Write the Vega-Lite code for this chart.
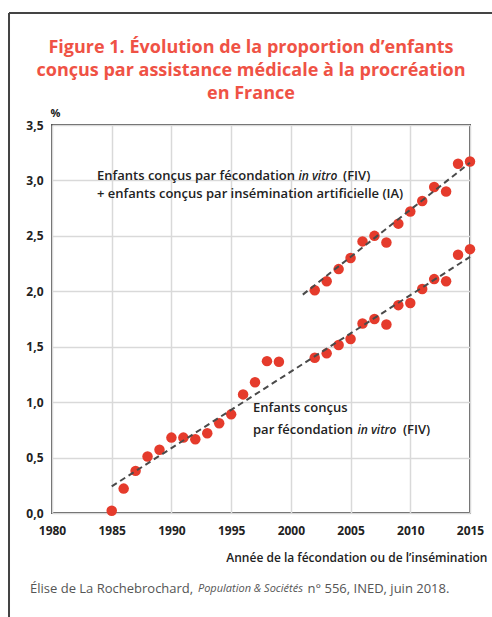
{
  "$schema": "https://vega.github.io/schema/vega-lite/v6.json",
  "width": 418,
  "height": 388,
  "autosize": {"type": "none"},
  "padding": {"left": 52, "top": 125, "right": 22, "bottom": 104},
  "background": "white",
  "config": {
    "view": {"stroke": "#555555", "strokeWidth": 2},
    "axis": {
      "labelFont": "Open Sans",
      "labelFontWeight": "bold",
      "labelFontSize": 12,
      "labelColor": "#222222",
      "gridColor": "#d9d9d9",
      "gridWidth": 1.5,
      "domain": false,
      "ticks": false,
      "titleFont": "Open Sans",
      "titleColor": "#222222"
    },
    "text": {"font": "Open Sans"}
  },
  "datasets": {
    "points": [
      {"series": "FIV", "year": 1985, "value": 0.02},
      {"series": "FIV", "year": 1986, "value": 0.22},
      {"series": "FIV", "year": 1987, "value": 0.38},
      {"series": "FIV", "year": 1988, "value": 0.51},
      {"series": "FIV", "year": 1989, "value": 0.57},
      {"series": "FIV", "year": 1990, "value": 0.68},
      {"series": "FIV", "year": 1991, "value": 0.68},
      {"series": "FIV", "year": 1992, "value": 0.665},
      {"series": "FIV", "year": 1993, "value": 0.72},
      {"series": "FIV", "year": 1994, "value": 0.81},
      {"series": "FIV", "year": 1995, "value": 0.89},
      {"series": "FIV", "year": 1996, "value": 1.07},
      {"series": "FIV", "year": 1997, "value": 1.18},
      {"series": "FIV", "year": 1998, "value": 1.37},
      {"series": "FIV", "year": 1999, "value": 1.365},
      {"series": "FIV", "year": 2002, "value": 1.40},
      {"series": "FIV", "year": 2003, "value": 1.44},
      {"series": "FIV", "year": 2004, "value": 1.515},
      {"series": "FIV", "year": 2005, "value": 1.57},
      {"series": "FIV", "year": 2006, "value": 1.71},
      {"series": "FIV", "year": 2007, "value": 1.75},
      {"series": "FIV", "year": 2008, "value": 1.70},
      {"series": "FIV", "year": 2009, "value": 1.875},
      {"series": "FIV", "year": 2010, "value": 1.895},
      {"series": "FIV", "year": 2011, "value": 2.02},
      {"series": "FIV", "year": 2012, "value": 2.11},
      {"series": "FIV", "year": 2013, "value": 2.09},
      {"series": "FIV", "year": 2014, "value": 2.33},
      {"series": "FIV", "year": 2015, "value": 2.38},
      {"series": "FIV+IA", "year": 2002, "value": 2.01},
      {"series": "FIV+IA", "year": 2003, "value": 2.09},
      {"series": "FIV+IA", "year": 2004, "value": 2.20},
      {"series": "FIV+IA", "year": 2005, "value": 2.30},
      {"series": "FIV+IA", "year": 2006, "value": 2.45},
      {"series": "FIV+IA", "year": 2007, "value": 2.50},
      {"series": "FIV+IA", "year": 2008, "value": 2.44},
      {"series": "FIV+IA", "year": 2009, "value": 2.61},
      {"series": "FIV+IA", "year": 2010, "value": 2.72},
      {"series": "FIV+IA", "year": 2011, "value": 2.815},
      {"series": "FIV+IA", "year": 2012, "value": 2.94},
      {"series": "FIV+IA", "year": 2013, "value": 2.90},
      {"series": "FIV+IA", "year": 2014, "value": 3.15},
      {"series": "FIV+IA", "year": 2015, "value": 3.17}
    ],
    "trends": [
      {"series": "FIV", "year": 1985, "value": 0.24},
      {"series": "FIV", "year": 2015, "value": 2.31},
      {"series": "FIV+IA", "year": 2001, "value": 1.97},
      {"series": "FIV+IA", "year": 2015, "value": 3.16}
    ]
  },
  "layer": [
    {
      "data": {"name": "points"},
      "mark": {"type": "circle", "size": 110, "opacity": 1, "color": "#e53b2c"},
      "encoding": {
        "x": {
          "field": "year",
          "type": "quantitative",
          "scale": {"domain": [1980, 2015], "nice": false, "zero": false},
          "axis": {
            "values": [1980, 1985, 1990, 1995, 2000, 2005, 2010, 2015],
            "format": "d",
            "labelFlush": false,
            "labelPadding": 12,
            "title": "Année de la fécondation ou de l’insémination",
            "titleFontSize": 12,
            "titleFontWeight": 600,
            "titleAnchor": "end",
            "titleAlign": "right",
            "titleBaseline": "middle",
            "titleX": 435,
            "titleY": 44
          }
        },
        "y": {
          "field": "value",
          "type": "quantitative",
          "scale": {"domain": [0, 3.5], "nice": false},
          "axis": {
            "values": [0, 0.5, 1, 1.5, 2, 2.5, 3, 3.5],
            "labelExpr": "replace(format(datum.value, '.1f'), '.', ',')",
            "labelPadding": 9,
            "title": "%",
            "titleAngle": 0,
            "titleFontSize": 11,
            "titleFontWeight": "bold",
            "titleAlign": "center",
            "titleBaseline": "middle",
            "titleX": 3,
            "titleY": -12
          }
        }
      }
    },
    {
      "data": {"name": "trends"},
      "mark": {"type": "line", "color": "#4a4a4a", "strokeWidth": 2, "strokeDash": [6, 4]},
      "encoding": {
        "x": {"field": "year", "type": "quantitative"},
        "y": {"field": "value", "type": "quantitative"},
        "detail": {"field": "series"}
      }
    },
    {
      "data": {"values": [{}]},
      "mark": {"type": "rule", "color": "#444444", "strokeWidth": 2},
      "encoding": {"x": {"datum": 1976.4}, "y": {"datum": 4.51}, "y2": {"datum": -0.95}}
    },
    {
      "data": {"values": [{}]},
      "mark": {"type": "rule", "color": "#444444", "strokeWidth": 2},
      "encoding": {"y": {"datum": 4.51}, "x": {"datum": 1976.4}, "x2": {"datum": 2017.5}}
    },
    {
      "data": {"values": [{}]},
      "mark": {"type": "text", "align": "center", "baseline": "middle", "fontSize": 18, "fontWeight": "bold", "color": "#ef5245", "text": "Figure 1. Évolution de la proportion d’enfants"},
      "encoding": {"x": {"datum": 1996.66}, "y": {"datum": 4.194}}
    },
    {
      "data": {"values": [{}]},
      "mark": {"type": "text", "align": "center", "baseline": "middle", "fontSize": 18, "fontWeight": "bold", "color": "#ef5245", "text": "conçus par assistance médicale à la procréation"},
      "encoding": {"x": {"datum": 1996.66}, "y": {"datum": 3.987}}
    },
    {
      "data": {"values": [{}]},
      "mark": {"type": "text", "align": "center", "baseline": "middle", "fontSize": 18, "fontWeight": "bold", "color": "#ef5245", "text": "en France"},
      "encoding": {"x": {"datum": 1996.66}, "y": {"datum": 3.78}}
    },
    {
      "data": {"values": [{}]},
      "mark": {"type": "text", "align": "left", "baseline": "middle", "fontSize": 13, "fontWeight": 600, "color": "#222222", "text": "Enfants conçus par fécondation"},
      "encoding": {"x": {"datum": 1983.77}, "y": {"datum": 3.04}}
    },
    {
      "data": {"values": [{}]},
      "mark": {"type": "text", "align": "center", "baseline": "middle", "fontSize": 12, "fontWeight": 600, "fontStyle": "italic", "color": "#222222", "text": "in vitro"},
      "encoding": {"x": {"datum": 2002.27}, "y": {"datum": 3.04}}
    },
    {
      "data": {"values": [{}]},
      "mark": {"type": "text", "align": "left", "baseline": "middle", "fontSize": 13, "fontWeight": 600, "color": "#222222", "text": "(FIV)"},
      "encoding": {"x": {"datum": 2004.37}, "y": {"datum": 3.04}}
    },
    {
      "data": {"values": [{}]},
      "mark": {"type": "text", "align": "left", "baseline": "middle", "fontSize": 13, "fontWeight": 600, "color": "#222222", "text": "+ enfants conçus par insémination artificielle (IA)"},
      "encoding": {"x": {"datum": 1983.77}, "y": {"datum": 2.88}}
    },
    {
      "data": {"values": [{}]},
      "mark": {"type": "text", "align": "left", "baseline": "middle", "fontSize": 13, "fontWeight": 600, "color": "#222222", "text": "Enfants conçus"},
      "encoding": {"x": {"datum": 1996.83}, "y": {"datum": 0.947}}
    },
    {
      "data": {"values": [{}]},
      "mark": {"type": "text", "align": "left", "baseline": "middle", "fontSize": 13, "fontWeight": 600, "color": "#222222", "text": "par fécondation"},
      "encoding": {"x": {"datum": 1996.83}, "y": {"datum": 0.749}}
    },
    {
      "data": {"values": [{}]},
      "mark": {"type": "text", "align": "center", "baseline": "middle", "fontSize": 12, "fontWeight": 600, "fontStyle": "italic", "color": "#222222", "text": "in vitro"},
      "encoding": {"x": {"datum": 2007.21}, "y": {"datum": 0.749}}
    },
    {
      "data": {"values": [{}]},
      "mark": {"type": "text", "align": "left", "baseline": "middle", "fontSize": 13, "fontWeight": 600, "color": "#222222", "text": "(FIV)"},
      "encoding": {"x": {"datum": 2009.39}, "y": {"datum": 0.749}}
    },
    {
      "data": {"values": [{}]},
      "mark": {"type": "text", "align": "left", "baseline": "middle", "fontSize": 13, "color": "#555555", "text": "Élise de La Rochebrochard,"},
      "encoding": {"x": {"datum": 1978.16}, "y": {"datum": -0.69}}
    },
    {
      "data": {"values": [{}]},
      "mark": {"type": "text", "align": "left", "baseline": "middle", "fontSize": 11, "fontStyle": "italic", "color": "#555555", "text": "Population & Sociétés"},
      "encoding": {"x": {"datum": 1992.22}, "y": {"datum": -0.69}}
    },
    {
      "data": {"values": [{}]},
      "mark": {"type": "text", "align": "left", "baseline": "middle", "fontSize": 13, "color": "#555555", "text": "n° 556, INED, juin 2018."},
      "encoding": {"x": {"datum": 2001.4}, "y": {"datum": -0.69}}
    }
  ]
}
